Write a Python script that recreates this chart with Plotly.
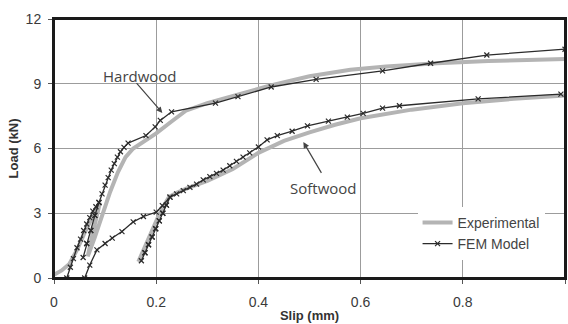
import plotly.graph_objects as go

# Hardwood - experimental
hw_exp_x = [0.0, 0.015, 0.03, 0.045, 0.06, 0.075, 0.09, 0.075, 0.066, 0.08, 0.095, 0.11, 0.125, 0.14, 0.155,
            0.175, 0.2, 0.23, 0.258, 0.3, 0.36, 0.42, 0.5, 0.58, 0.65, 0.75, 0.85, 1.0]
hw_exp_y = [0.15, 0.35, 0.65, 1.3, 2.1, 2.8, 3.5, 2.0, 1.0, 1.9, 3.0, 4.0, 4.9, 5.6, 6.0,
            6.3, 6.7, 7.25, 7.75, 8.1, 8.5, 8.9, 9.35, 9.65, 9.8, 9.95, 10.05, 10.15]

# Softwood - experimental
sw_exp_x = [0.165, 0.175, 0.185, 0.195, 0.205, 0.215, 0.225, 0.24, 0.26, 0.3, 0.35, 0.4, 0.45, 0.5,
            0.55, 0.6, 0.7, 0.8, 0.9, 1.0]
sw_exp_y = [0.75, 1.3, 1.9, 2.4, 2.9, 3.35, 3.75, 3.95, 4.15, 4.5, 5.05, 5.8, 6.35, 6.75,
            7.1, 7.4, 7.8, 8.1, 8.3, 8.45]

# Hardwood - FEM model
hw_fem_x = [0.025, 0.032, 0.038, 0.045, 0.052, 0.058, 0.064, 0.070, 0.076, 0.082, 0.088,
            0.080, 0.072, 0.064, 0.057,
            0.064, 0.072, 0.080, 0.088, 0.094, 0.100, 0.106, 0.112, 0.118, 0.124, 0.130, 0.137, 0.145,
            0.18, 0.198, 0.208, 0.23, 0.316, 0.36, 0.425, 0.513, 0.643, 0.737, 0.847, 1.0]
hw_fem_y = [0.0, 0.5, 0.9, 1.4, 1.8, 2.2, 2.5, 2.8, 3.1, 3.3, 3.5,
            2.9, 2.2, 1.6, 0.95,
            1.6, 2.2, 2.9, 3.5, 3.9, 4.3, 4.65, 5.0, 5.3, 5.6, 5.85, 6.05, 6.25,
            6.6, 7.0, 7.3, 7.7, 8.1, 8.4, 8.85, 9.2, 9.6, 9.95, 10.33, 10.6]

# Softwood - FEM model
sw_fem_x = [0.06, 0.07, 0.084, 0.1, 0.114, 0.133, 0.155, 0.175, 0.2, 0.212, 0.227,
            0.22, 0.213, 0.206, 0.199, 0.192, 0.185, 0.178, 0.171,
            0.178, 0.185, 0.192, 0.199, 0.206, 0.213, 0.22, 0.227,
            0.24, 0.253, 0.266, 0.279, 0.292, 0.305, 0.318, 0.331, 0.344, 0.357, 0.37, 0.383, 0.4,
            0.417, 0.437, 0.466, 0.496, 0.537, 0.574, 0.605, 0.643, 0.676, 0.83, 0.992]
sw_fem_y = [0.0, 0.6, 1.3, 1.6, 1.85, 2.15, 2.6, 2.85, 3.05, 3.35, 3.75,
            3.38, 3.0, 2.65, 2.28, 1.9, 1.54, 1.17, 0.8,
            1.17, 1.54, 1.9, 2.28, 2.65, 3.0, 3.38, 3.75,
            3.9, 4.05, 4.2, 4.35, 4.55, 4.7, 4.85, 5.0, 5.2, 5.4, 5.6, 5.8, 6.07,
            6.4, 6.6, 6.8, 7.05, 7.27, 7.45, 7.63, 7.87, 7.98, 8.3, 8.52]

x_ticks = [0, 0.2, 0.4, 0.6, 0.8, 1]
x_tick_text = ["0", "0.2", "0.4", "0.6", "0.8", "1"]
y_ticks = [0, 3, 6, 9, 12]

EXP_COLOR = "#b4b4b4"
FEM_COLOR = "#2b2b2b"

fig = go.Figure()

fig.add_trace(go.Scatter(x=hw_exp_x, y=hw_exp_y, mode="lines", name="Experimental",
                         legendgroup="exp", line=dict(color=EXP_COLOR, width=4)))
fig.add_trace(go.Scatter(x=sw_exp_x, y=sw_exp_y, mode="lines", name="Experimental",
                         legendgroup="exp", showlegend=False, line=dict(color=EXP_COLOR, width=4)))
fem_marker = dict(symbol="x-thin", size=5, line=dict(color=FEM_COLOR, width=1.2), color=FEM_COLOR)
fig.add_trace(go.Scatter(x=hw_fem_x, y=hw_fem_y, mode="lines+markers", name="FEM Model",
                         legendgroup="fem", line=dict(color=FEM_COLOR, width=1.3), marker=fem_marker))
fig.add_trace(go.Scatter(x=sw_fem_x, y=sw_fem_y, mode="lines+markers", name="FEM Model",
                         legendgroup="fem", showlegend=False,
                         line=dict(color=FEM_COLOR, width=1.3), marker=fem_marker))

ann_font = dict(family="Open Sans", size=15, color="#444")
fig.add_annotation(x=0.169, y=9.35, text="Hardwood", showarrow=False, font=ann_font,
                   xref="x", yref="y")
fig.add_annotation(x=0.212, y=7.65, ax=0.159, ay=9.1, axref="x", ayref="y", xref="x", yref="y",
                   text="", showarrow=True, arrowhead=2, arrowsize=1, arrowwidth=1.2, arrowcolor="#444")
fig.add_annotation(x=0.527, y=4.15, text="Softwood", showarrow=False, font=ann_font,
                   xref="x", yref="y")
fig.add_annotation(x=0.488, y=6.3, ax=0.525, ay=4.8, axref="x", ayref="y", xref="x", yref="y",
                   text="", showarrow=True, arrowhead=2, arrowsize=1, arrowwidth=1.2, arrowcolor="#444")

# plot frame drawn on top
fig.add_shape(type="rect", xref="paper", yref="paper", x0=0, y0=0, x1=1, y1=1,
              line=dict(color="#1a1a1a", width=2), layer="above")

axis_common = dict(showline=True, linecolor="#1a1a1a", linewidth=2, mirror=True,
                   showgrid=True, gridcolor="#9c9c9c", gridwidth=1.3, zeroline=False,
                   ticks="outside", ticklen=4, tickcolor="#555", tickwidth=1, automargin=False,
                   tickfont=dict(family="Liberation Sans", size=14, color="#3a3a3a"))

fig.update_xaxes(range=[0, 1], tickvals=x_ticks, ticktext=x_tick_text,
                 title=dict(text="<b>Slip (mm)</b>", font=dict(family="Liberation Sans", size=13, color="#333"),
                            standoff=2),
                 ticklabelstandoff=6, **axis_common)
fig.update_yaxes(range=[0, 12], tickvals=y_ticks,
                 title=dict(text="<b>Load (kN)</b>", font=dict(family="Liberation Sans", size=13, color="#333"),
                            standoff=4),
                 ticklabelstandoff=4, **axis_common)

fig.update_layout(
    width=568, height=324,
    margin=dict(l=54, r=3, t=19, b=46),
    plot_bgcolor="white", paper_bgcolor="white",
    showlegend=True,
    legend=dict(x=0.96, y=0.07, xanchor="right", yanchor="bottom", bgcolor="white",
                font=dict(family="Liberation Sans", size=14, color="#444"),
                tracegroupgap=0, itemwidth=30),
)

fig.write_html("out.html", config={"displayModeBar": False},
               post_script="document.body.style.margin='0';document.body.style.overflow='hidden';")
